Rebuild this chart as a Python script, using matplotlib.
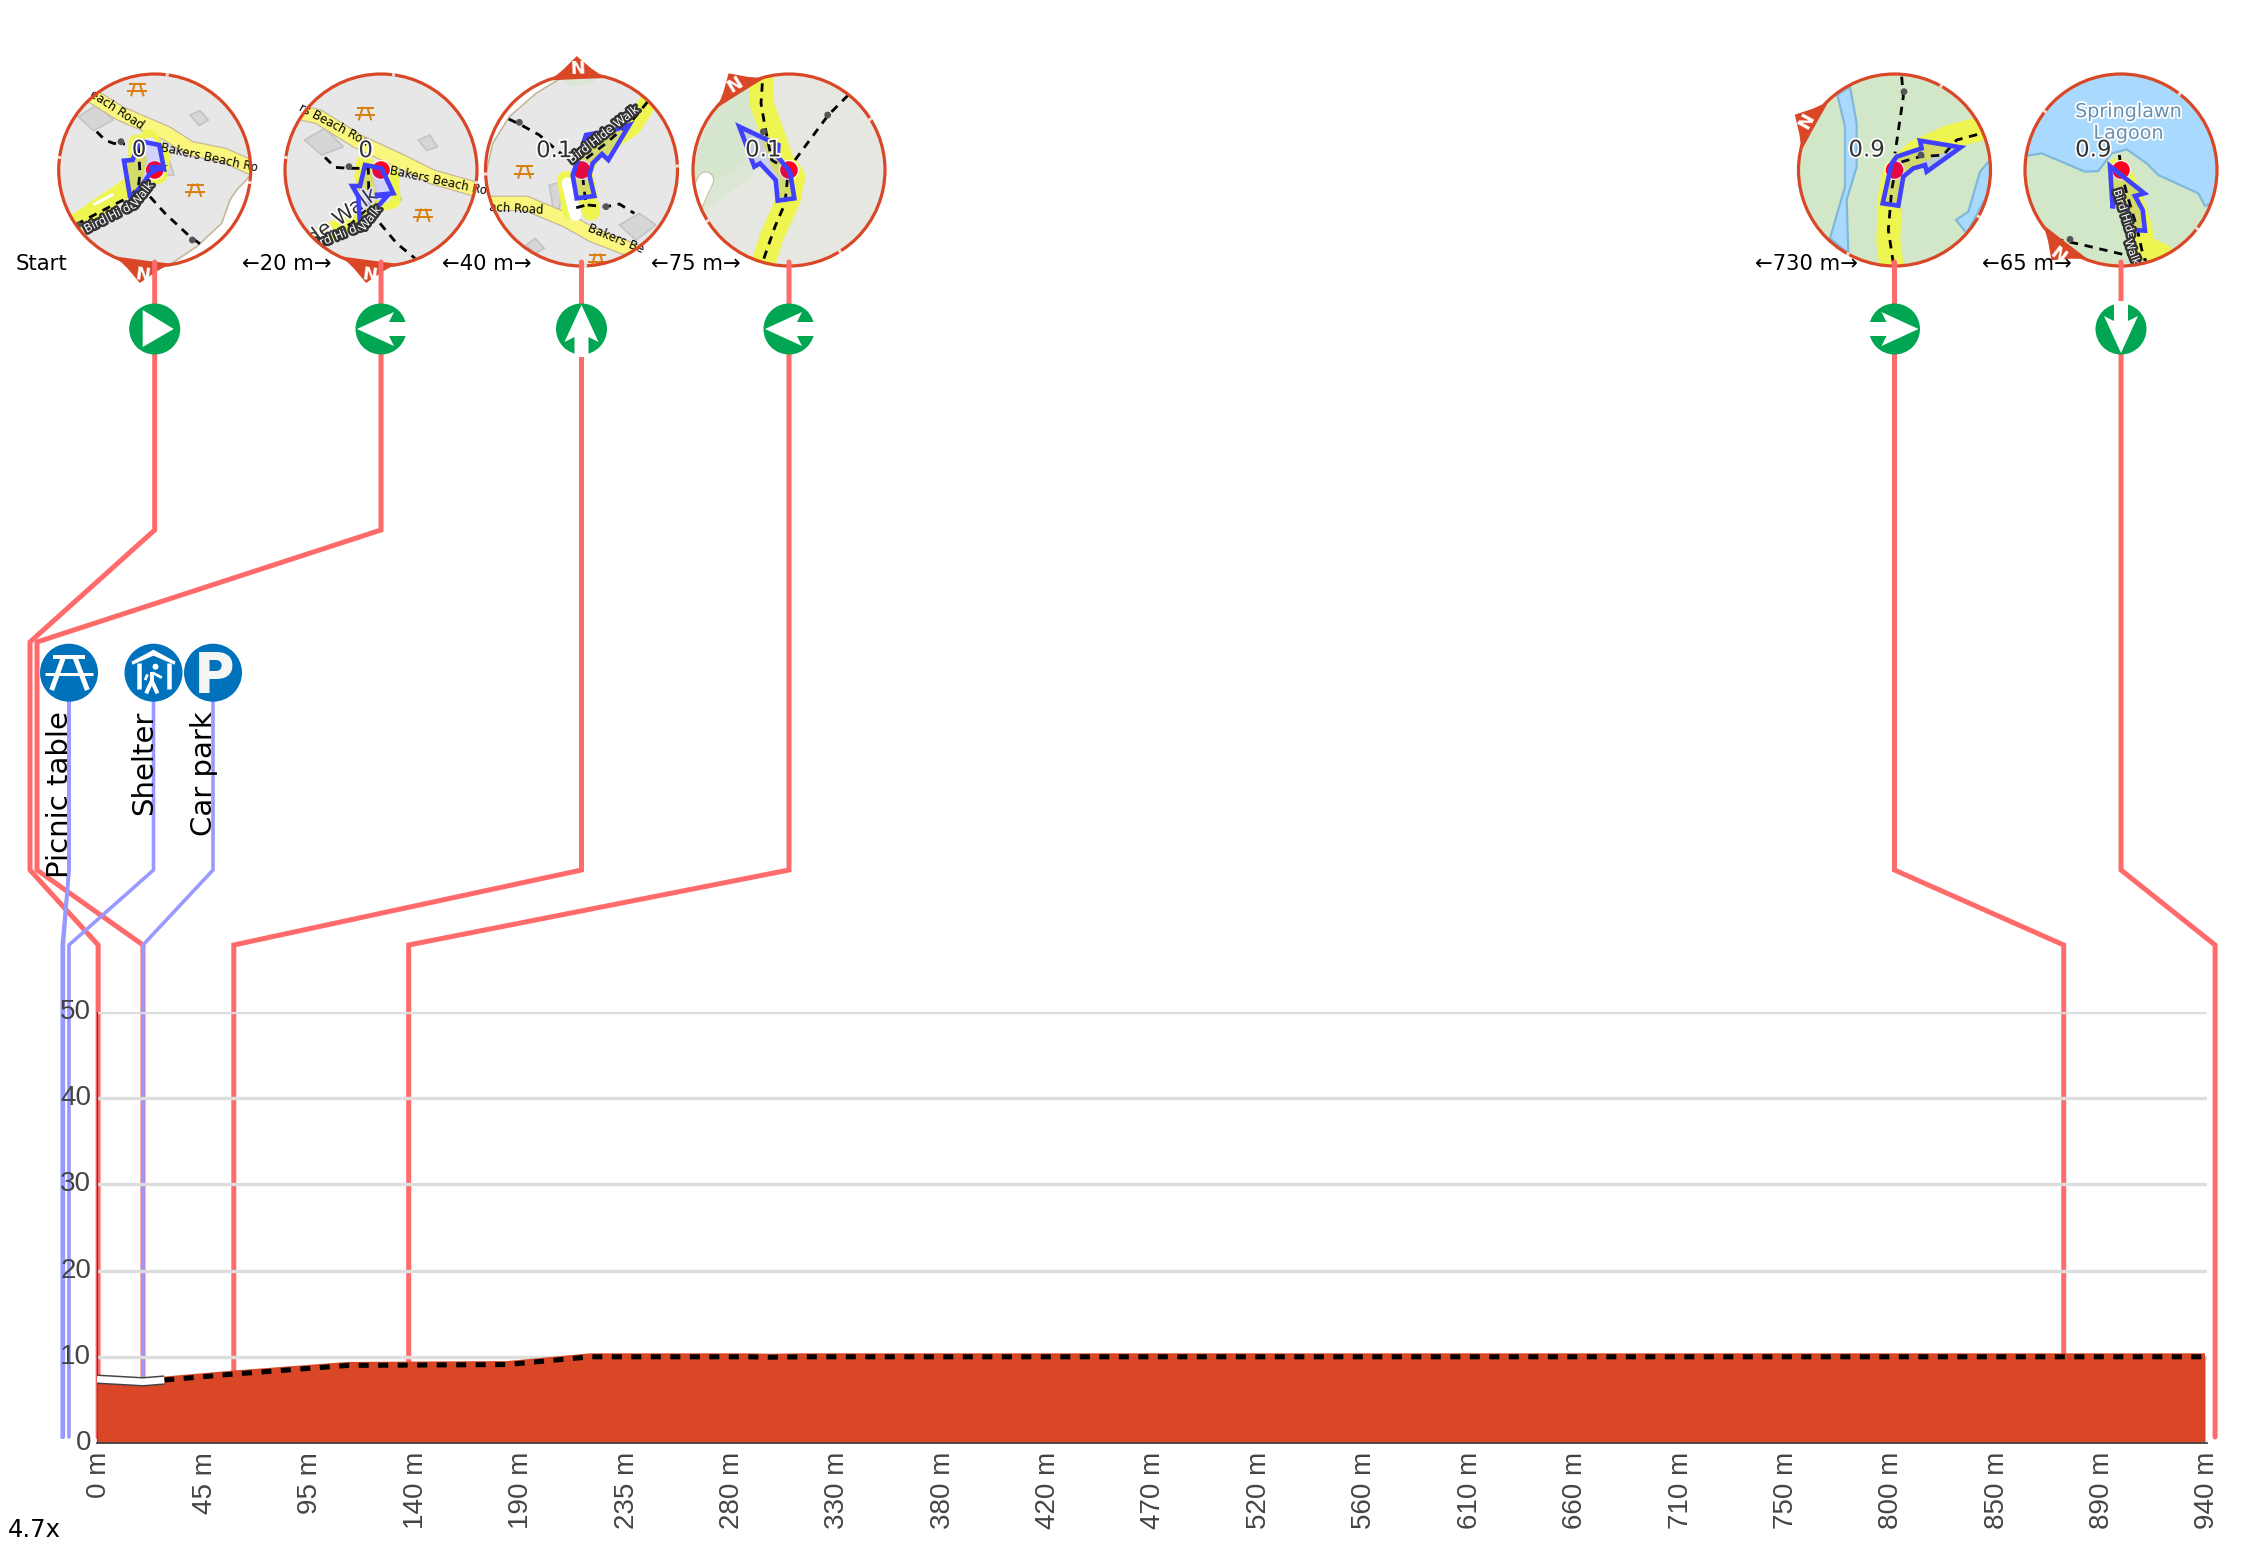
import numpy as np
import matplotlib
matplotlib.use("Agg")
import matplotlib.pyplot as plt
from matplotlib.patches import Circle, Polygon
from matplotlib.transforms import ScaledTranslation
import matplotlib.patheffects as pe

# ---------- chart data ----------
route_dist = [0, 20.5, 30, 61, 112, 183, 220, 290, 300, 315, 940]
route_elev = [7.4, 7.1, 7.3, 8.0, 9.0, 9.1, 10, 10, 9.95, 10, 10]
white_until = 30
x_tick_pos = [47 * i for i in range(21)]
x_tick_labels = ["0 m", "45 m", "95 m", "140 m", "190 m", "235 m", "280 m", "330 m", "380 m", "420 m", "470 m",
                 "520 m", "560 m", "610 m", "660 m", "710 m", "750 m", "800 m", "850 m", "890 m", "940 m"]
y_ticks = [0, 10, 20, 30, 40, 50]
turn_dist = [0.5, 20.5, 61, 139, 877, 944.5]
turn_labels = ["Start", "←20 m→", "←40 m→", "←75 m→", "←730 m→", "←65 m→"]
turn_km = ["0", "0", "0.1", "0.1", "0.9", "0.9"]
poi_names = ["Picnic table", "Shelter", "Car park"]
poi_dist = [-15, -12.5, 20.5]
zoom_note = "4.7x"

# ---------- styles ----------
W, H = 2246, 1549
ORANGE = "#D94727"; RED_LINE = "#FF6B6B"; BLUE_LINE = "#9999FF"; GREEN = "#00A651"; POI = "#0072BC"
GREY = "#E7E7E7"; ROAD = "#FBF77E"; CASE = "#C6B89E"; HI = "#EEF550"; WATER = "#A9DAFD"; SHORE = "#7FB8DC"
LAND = "#D2E6C8"; BLD = "#D6D6D6"; ROUTE = "#4040FF"; PIC = "#D9800F"
def pt(px): return px * 72 / 100

fig = plt.figure(figsize=(W / 100, H / 100), dpi=100, facecolor="white")
px = fig.add_axes([0, 0, 1, 1], zorder=1)
px.set_xlim(0, W); px.set_ylim(H, 0); px.axis("off")
ax = fig.add_axes([97 / W, (H - 1443) / H, 2110 / W, 431 / H], zorder=2)
ax.patch.set_alpha(0)
ax.set_xlim(0, 940 * 2110 / 2108); ax.set_ylim(0, 50)

# ---------- elevation ----------
d = np.array(route_dist, float); e = np.array(route_elev, float)
ax.yaxis.grid(True, color="#DDDDDD", lw=pt(3.4)); ax.set_axisbelow(True)
ax.fill_between(d, 0, e, color=ORANGE, lw=0, zorder=3)
ax.plot(d, e, color=ORANGE, lw=pt(7), solid_capstyle="butt", zorder=3)
on = d >= white_until; off = d <= white_until
ax.plot(d[on], e[on], color="black", lw=pt(5), dashes=(2.0, 1.9), dash_capstyle="butt", zorder=4)
ax.plot(d[off], e[off], color="#444444", lw=pt(9.5), solid_capstyle="butt", zorder=4)
ax.plot(d[off], e[off], color="white", lw=pt(6.5), solid_capstyle="butt", zorder=5)
for s in ("top", "right"):
    ax.spines[s].set_visible(False)
ax.spines["bottom"].set_color("#444444"); ax.spines["bottom"].set_linewidth(pt(1.8)); ax.spines["bottom"].set_zorder(6)
ax.spines["left"].set_color("#444444"); ax.spines["left"].set_linewidth(pt(1.2))
ax.set_xticks(x_tick_pos); ax.set_xticklabels(x_tick_labels, rotation=90, ha="center", va="top",
                                               fontsize=20, family="Liberation Sans", color="#444444")
ax.set_yticks(y_ticks); ax.set_yticklabels([str(v) for v in y_ticks], fontsize=20, family="Liberation Sans", color="#444444")
ax.tick_params(axis="x", length=0, pad=pt(9)); ax.tick_params(axis="y", length=0, pad=pt(6))
for lab in ax.get_yticklabels():
    lab.set_transform(lab.get_transform() + ScaledTranslation(0, 2.2 / 72, fig.dpi_scale_trans))
for lab in ax.get_xticklabels():
    lab.set_transform(lab.get_transform() + ScaledTranslation(2.5 * 0.72 / 72, 0, fig.dpi_scale_trans))

def dist_px(v):
    return ax.transData.transform((v, 0))[0]

# ---------- map decor (coordinates inside each map tile) ----------
CY = 170; R = 96
centers = [154.7, 381, 581.5, 789, 1894.5, 2121]

def pts(o, P):
    return [(o[0] + a / 3, o[1] + b / 3) for a, b in P]

MAPS = [
 dict(o=(50, 60), bg=GREY, ang=187.5, num=(267, 270),
      white=[(603,345),(560,390),(540,420),(515,490),(440,560),(365,610),(420,640),(640,640),(640,345)],
      bld=[[(85,170),(140,135),(190,180),(130,212)],[(420,165),(450,152),(475,180),(447,197)],[(345,260),(372,345),(345,347)]],
      road=[(130,110),(210,160),(350,220),(420,265),(520,285),(610,325)],
      hi=[[(75,490),(170,425),(245,375),(262,310),(262,250)],[(295,235),(335,290),(325,345)]],
      inner=[(300,250),(320,330)],
      route=[(240,410),(222,302),(248,300),(268,243),(328,255),(342,328),(300,322),(330,322),(300,340),(280,370),(245,412)],
      dash=[[(140,215),(165,240),(190,250),(225,252)],[(265,260),(270,340),(265,380),(240,410),(180,440),(85,490)],[(300,410),(345,460),(420,530),(455,555)]],
      dots=[(213,245),(427,540),(85,495)], pic=[(262,88),(435,390)],
      txt=[("each Road",(200,150),-33,8.5),("Bakers Beach Ro",(478,293),-12,8.5)],
      dark=[("Bird Hi de",(182,470),27,8.5),("Walk",(277,402),52,8.5)],
      arrow=[(135,432),(185,405)]),
 dict(o=(275, 60), bg=GREY, ang=187.5, num=(272, 272),
      bld=[[(88,240),(150,205),(205,260),(140,285)],[(430,240),(465,225),(487,260),(455,272)],[(350,365),(380,420),(350,422)]],
      road=[(85,160),(130,170),(250,245),(380,305),(470,350),(610,390)],
      hi=[[(130,530),(210,495),(285,440),(265,350),(270,310)],[(345,340),(350,420),(300,430)]],
      inner=[(320,350),(330,410)],
      route=[(270,315),(320,325),(355,400),(300,405),(335,410),(290,460),(255,490),(250,410),(232,378),(255,378)],
      dash=[[(150,292),(180,322),(222,325),(280,325),(282,440),(230,490),(170,525),(140,535)],[(315,490),(365,550),(420,595)]],
      dots=[(222,320)], pic=[(270,160),(445,465)],
      txt=[("rs Beach Roa",(175,195),-28,8.5),("Bakers Beach Ro",(490,362),-12,8.5)],
      halo=[("ide Walk",(195,475),36,15)],
      dark=[("ird Hi de",(195,525),22,8.5),("Walk",(285,475),52,8.5)]),
 dict(o=(476, 50), bg=GREY, ang=-2.4, num=(235, 302),
      white=[(30,370),(50,280),(100,200),(180,130),(270,75),(270,40),(10,40),(10,370)],
      green=[[(250,85),(280,70),(370,70),(350,100),(290,110)]],
      bld=[[(430,525),(490,490),(540,525),(480,570)],[(150,585),(178,565),(205,595),(178,610)],[(220,405),(260,395),(250,480),(232,480)]],
      road=[(40,460),(150,460),(270,510),(350,555),(480,605)],
      hi=[[(520,150),(470,230),(350,310),(320,360),(330,400),(345,485)],[(270,390),(285,480)]],
      inner=[(275,400),(298,495)],
      route=[(305,330),(290,375),(302,445),(355,438),(340,375),(350,340),(378,312),(397,330),(460,225),(415,240),(330,255)],
      dash=[[(98,207),(130,222),(190,255),(230,290),(290,340)],[(320,380),(330,465),(295,475)],[(335,465),(390,470),(430,462),(475,490)],[(515,155),(470,210),(390,280),(325,330)]],
      dots=[(130,217),(390,470)], pic=[(145,365),(365,630)],
      txt=[("ach Road",(120,478),-3,8.5),("Bakers Be",(420,568),-22,8.5)],
      dark=[("Bird Hide Walk",(383,253),38,8.5)]),
 dict(o=(685, 60), bg="#E7E7E2", ang=-32, num=(235, 270),
      green=[[(20,420),(40,250),(110,100),(230,40),(215,180),(180,300)],[(20,480),(30,300),(110,100),(250,40),(260,200),(200,350)]],
      pill=[(62,360),(30,430)],
      hi=[[(230,40),(230,130),(262,220),(290,300),(325,350),(310,420),(260,530),(232,620)]],
      route=[(163,200),(280,255),(278,290),(315,335),(328,415),(278,422),(272,360),(225,310),(208,320)],
      dash=[[(232,70),(228,130),(240,200),(260,300),(310,330),(300,430),(270,500),(235,600)],[(330,300),(430,165),(490,105)]],
      dots=[(235,215),(428,165)], pic=[], txt=[], dark=[]),
 dict(o=(1750, 40), bg=LAND, ang=-61, num=(350, 330),
      water=[[(262,165),(300,140),(320,250),(320,380),(290,480),(295,640),(240,595),(285,440),(285,260)],
             [(720,360),(690,395),(655,515),(618,540),(650,580),(720,450)]],
      hi=[[(425,680),(415,600),(420,470),(435,395),(500,335),(600,290),(710,262)]],
      route=[(632,322),(510,302),(515,325),(440,350),(425,370),(398,490),(445,497),(460,410),(490,385),(525,375),(530,395)],
      dash=[[(455,110),(460,170),(435,340)],[(430,670),(415,570),(425,450),(440,370),(510,350),(580,345),(620,300),(695,280)]],
      dots=[(462,155),(513,345)], pic=[], txt=[], dark=[]),
 dict(o=(1750, 40), bg=LAND, ang=217.6, num=(1030, 330),
      sea=[(815,350),(875,340),(1005,395),(1045,393),(1085,340),(1130,328),(1190,370),(1225,405),(1345,460),(1365,498),(1410,480),(1420,90),(815,90)],
      hi=[[(1105,390),(1140,470),(1170,560),(1180,620),(1240,650)]],
      route=[(1080,378),(1183,460),(1155,468),(1178,510),(1185,572),(1145,570),(1130,500),(1095,470),(1088,505)],
      dash=[[(1108,345),(1115,400),(1130,460),(1160,560),(1180,650)],[(915,597),(1000,615),(1190,660)]],
      dots=[(960,598)], pic=[], txt=[], dark=[("Bird Hide",(1122,522),-72,8),("Walk",(1146,637),-70,8)],
      place=[("Springlawn",(1135,215)),("Lagoon",(1135,280))]),
]

def small_picnic(x, y, clip):
    segs = [((-7.5,-5.5),(7.5,-5.5)), ((-9,2),(9,2)), ((-2.5,-5.5),(-6,6)), ((2.5,-5.5),(6,6))]
    for a, b in segs:
        l, = px.plot([x+a[0], x+b[0]], [y+a[1], y+b[1]], color=PIC, lw=pt(2), zorder=2)
        l.set_clip_path(clip)

for i, (cx, m) in enumerate(zip(centers, MAPS)):
    o = m["o"]
    disc = Circle((cx, CY), R, fc=m["bg"], ec="none", zorder=1)
    px.add_patch(disc)
    def add_poly(P, **k):
        pa = Polygon(pts(o, P), closed=True, zorder=2, **k)
        px.add_patch(pa); pa.set_clip_path(disc); return pa
    def add_line(P, **k):
        q = np.array(pts(o, P))
        l, = px.plot(q[:, 0], q[:, 1], zorder=2, **k)
        l.set_clip_path(disc); return l
    if "sea" in m:
        add_poly(m["sea"], fc=WATER, ec=SHORE, lw=pt(2.2))
    for P in m.get("water", []):
        add_poly(P, fc=WATER, ec=SHORE, lw=pt(2.2))
    if "white" in m:
        add_poly(m["white"], fc="white", ec=CASE, lw=pt(1.7))
    for j, P in enumerate(m.get("green", [])):
        add_poly(P, fc="#CFE5C5", ec="none", alpha=0.45)
    if "pill" in m:
        add_line(m["pill"], color=CASE, lw=pt(17), solid_capstyle="round")
        add_line(m["pill"], color="white", lw=pt(15), solid_capstyle="round")
    for P in m.get("bld", []):
        add_poly(P, fc=BLD, ec="#C4C4C4", lw=pt(1.7))
    if "road" in m:
        add_line(m["road"], color=CASE, lw=pt(15.5), solid_joinstyle="round")
        add_line(m["road"], color=ROAD, lw=pt(13), solid_joinstyle="round")
    hw = 24 if i >= 3 else 18
    for P in m.get("hi", []):
        add_line(P, color=HI, lw=pt(hw), solid_capstyle="round", solid_joinstyle="round")
    if "inner" in m:
        add_line(m["inner"], color="white" if i == 2 else "#E9E9FB", lw=pt(12), solid_capstyle="round")
    if "arrow" in m:
        add_line(m["arrow"], color="white", lw=pt(3))
    for P in m.get("dash", []):
        add_line(P, color="black", lw=pt(2.8), dashes=(3.0, 2.4))
    for q in m.get("dots", []):
        (a, b), = pts(o, [q])
        c = Circle((a, b), 3.4, fc="#555555", ec="none", zorder=2); px.add_patch(c); c.set_clip_path(disc)
    for q in m.get("pic", []):
        (a, b), = pts(o, [q])
        small_picnic(a, b, disc)
    for s, q, rot, fs in m.get("txt", []):
        (a, b), = pts(o, [q])
        t = px.text(a, b, s, rotation=rot, fontsize=fs, ha="center", va="center", color="black", zorder=2,
                    rotation_mode="anchor", clip_on=True)
        t.set_clip_path(disc)
    for s, q, rot, fs in m.get("halo", []):
        (a, b), = pts(o, [q])
        t = px.text(a, b, s, rotation=rot, fontsize=fs, ha="center", va="center", color="#333333", zorder=2,
                    rotation_mode="anchor", clip_on=True,
                    path_effects=[pe.withStroke(linewidth=2.5, foreground="white")])
        t.set_clip_path(disc)
    # red point and route arrow
    px.add_patch(Circle((cx, CY), 10, fc="white", ec="none", zorder=2))
    px.add_patch(Circle((cx, CY), 8.8, fc="#FF0022", ec="none", zorder=2))
    pa = add_poly(m["route"], fc=(0.25, 0.25, 1, 0.14), ec=ROUTE, lw=pt(4.6), joinstyle="miter")
    pa.set_zorder(3)
    for s, q, rot, fs in m.get("dark", []):
        (a, b), = pts(o, [q])
        t = px.text(a, b, s, rotation=rot, fontsize=fs, ha="center", va="center", color="white", zorder=3,
                    rotation_mode="anchor", clip_on=True,
                    path_effects=[pe.withStroke(linewidth=3.5, foreground="#333333")])
        t.set_clip_path(disc)
    for s, q in m.get("place", []):
        (a, b), = pts(o, [q])
        px.text(a, b, s, fontsize=13.8, ha="center", va="center", color="#6A8FAE", zorder=3,
                path_effects=[pe.withStroke(linewidth=2.5, foreground="white")])
    # ring, compass tab
    def pol(deg, r):
        a = np.radians(deg)
        return (cx + r * np.sin(a), CY - r * np.cos(a))
    px.add_patch(Polygon([pol(m["ang"] - 17, R - 1), pol(m["ang"] - 8, R + 6), pol(m["ang"], R + 18),
                          pol(m["ang"] + 8, R + 6), pol(m["ang"] + 17, R - 1), pol(m["ang"], R - 5)],
                         closed=True, fc=ORANGE, ec="none", zorder=3))
    px.add_patch(Circle((cx, CY), R, fc="none", ec=ORANGE, lw=pt(3.2), zorder=3))
    for k in (90, 180, 270):
        q1, q2 = pol(m["ang"] + k - 0.9, R), pol(m["ang"] + k + 0.9, R)
        px.plot([q1[0], q2[0]], [q1[1], q2[1]], color="white", lw=pt(3.4), zorder=3, alpha=0.8, solid_capstyle="butt")
    a, b = pol(m["ang"], R + 5)
    px.text(a, b, "N", fontsize=13, fontweight="bold", color="white", rotation=-m["ang"], ha="center", va="center",
            rotation_mode="anchor", zorder=3)
    # number label
    (a, b), = pts(o, [m["num"]])
    px.text(a, b, turn_km[i], fontsize=16.5, color="#333333", ha="center", va="center", zorder=4,
            path_effects=[pe.withStroke(linewidth=2.5, foreground="white")])

# ---------- leaders ----------
Y_TOP, Y_K1, Y_K2, Y_K3, Y_END = 262, 530, 642, 870, 945
Y_STOP = 1437
side = [30, 37]
for i, (cx, dv) in enumerate(zip(centers, turn_dist)):
    tx = dist_px(dv)
    if i < 2:
        xs = [cx, cx, side[i], side[i], tx, tx]; ys = [Y_TOP, Y_K1, Y_K2, Y_K3, Y_END, Y_STOP]
    else:
        xs = [cx, cx, tx, tx]; ys = [Y_TOP, Y_K3, Y_END, Y_STOP]
    px.plot(xs, ys, color=RED_LINE, lw=pt(5), solid_capstyle="round", solid_joinstyle="miter", zorder=5)

poi_x = [69, 153.5, 213]
for px_x, dv in zip(poi_x, poi_dist):
    tx = dist_px(dv)
    px.plot([px_x, px_x, tx, tx], [701, Y_K3, Y_END, Y_STOP], color=BLUE_LINE, lw=pt(3.6),
            solid_capstyle="round", zorder=6)
tx = dist_px(-15.5)
px.plot([69, 69, tx, tx], [701, 870, 945, Y_STOP], color=BLUE_LINE, lw=pt(3.6), zorder=6)

# ---------- turn icons ----------
ARROW = np.array([(24,0),(-13,-17),(-8,-7),(-28,-7),(-28,7),(-8,7),(-13,17)], float)
PLAY = np.array([(-12,-19),(19,0),(-12,18)], float)
turn_angle = [None, 180, -90, 180, 0, 90]
for cx, ang in zip(centers, turn_angle):
    px.add_patch(Circle((cx, 329), 25.5, fc=GREEN, ec="none", zorder=7))
    if ang is None:
        shape = PLAY
    else:
        a = np.radians(ang)
        rot = np.array([[np.cos(a), -np.sin(a)], [np.sin(a), np.cos(a)]])
        shape = ARROW @ rot.T
    px.add_patch(Polygon(shape + [cx, 329], closed=True, fc="white", ec="none", zorder=8))

# ---------- POI icons ----------
POI_Y = 672.7
for name, x in zip(poi_names, poi_x):
    px.add_patch(Circle((x, POI_Y), 29, fc=POI, ec="none", zorder=7))
    px.text(x - 1, 711, name, rotation=90, rotation_mode="anchor", ha="right", va="baseline", fontsize=21,
            color="black", zorder=9)
def icon_line(x, seg, lw):
    for (a, b), (c, d_) in seg:
        px.plot([x + a / 3, x + c / 3], [POI_Y + b / 3, POI_Y + d_ / 3], color="white", lw=pt(lw), zorder=8,
                solid_capstyle="butt")
icon_line(poi_x[0], [((-47, -46), (48, -46))], 4)
icon_line(poi_x[0], [((-72, 4), (73, 4))], 3)
icon_line(poi_x[0], [((-17, -46), (-52, 52)), ((18, -46), (55, 52))], 5)
x = poi_x[1]
px.add_patch(Polygon([(x - 22, POI_Y - 11), (x, POI_Y - 23), (x + 22, POI_Y - 11), (x + 21, POI_Y - 8), (x, POI_Y - 17), (x - 21, POI_Y - 8)],
                     closed=True, fc="white", ec="none", zorder=8))
icon_line(x, [((-45, -30), (-45, 48)), ((45, -30), (45, 48))], 4.5)
px.add_patch(Circle((x + 2, POI_Y - 6), 3, fc="white", ec="none", zorder=8))
icon_line(x, [((-5, -3), (-5, 25)), ((-5, 25), (-22, 62)), ((-5, 25), (12, 62))], 4)
icon_line(x, [((-3, 0), (25, 15)), ((-18, 5), (-25, 22))], 2.8)
px.text(poi_x[2] + 1, POI_Y + 4, "P", fontsize=40, fontweight="bold", color="#F5F5F5", ha="center", va="center", zorder=8)

# ---------- text ----------
label_cx = [None, 287, 487, 696, 1806, 2027]
for s, x in zip(turn_labels, label_cx):
    if x is None:
        px.text(15.5, 263.5, s, fontsize=15.2, color="black", ha="left", va="center", zorder=9)
    else:
        px.text(x, 263.5, s, fontsize=15.2, color="black", ha="center", va="center", zorder=9)
px.text(8, 1530, zoom_note, fontsize=17.5, color="black", ha="left", va="center", zorder=9)

fig.savefig("out.png", dpi=100, facecolor="white")
